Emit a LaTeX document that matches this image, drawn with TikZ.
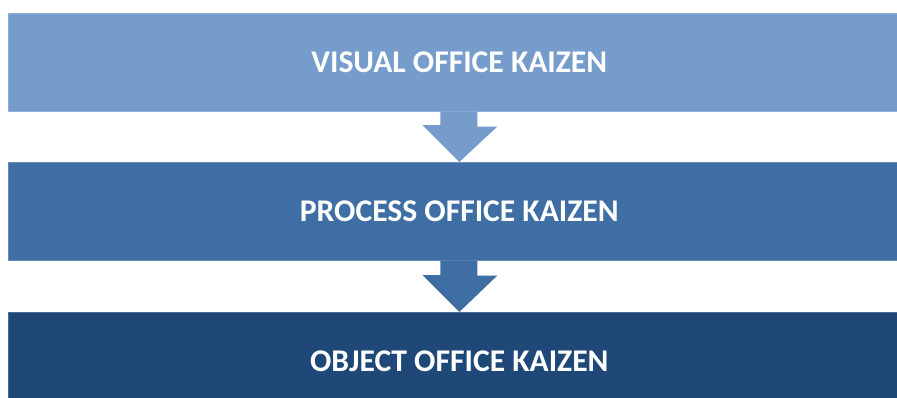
\documentclass[tikz,border=0pt]{standalone}
\usepackage{fontspec}
\setmainfont{Carlito}
\definecolor{stepA}{HTML}{759CCB}
\definecolor{stepB}{HTML}{3F6EA5}
\definecolor{stepC}{HTML}{1F4778}
\begin{document}
\begin{tikzpicture}[x=1pt,y=-1pt,
  stage/.style={fill=#1, draw=#1!80!white, line width=0.6pt, minimum width=902pt,
    minimum height=98pt, inner sep=0pt, anchor=north west,
    text=white, font=\fontsize{31.6}{38}\selectfont\bfseries},
  downarrow/.style={fill=#1}]
\useasboundingbox (0,0) rectangle (897,397);
\begin{scope}
\clip (0,0) rectangle (897,397);
\node[stage=stepA] (visual) at (8,13) {VISUAL OFFICE KAIZEN};
\node[stage=stepB] (process) at (8,162) {PROCESS OFFICE KAIZEN};
\node[stage=stepC] (object) at (8,312) {OBJECT OFFICE KAIZEN};
% block arrows between the stages
\fill[stepA] ([xshift=-19pt]visual.south) -- ([xshift=18pt]visual.south)
  -- ++(0,15) -- ++(20,0) -- (process.north) -- ++(-37,-37) -- ++(18,0) -- cycle;
\fill[stepB] ([xshift=-19pt]process.south) -- ([xshift=18pt]process.south)
  -- ++(0,15) -- ++(20,0) -- (object.north) -- ++(-37,-37) -- ++(18,0) -- cycle;
\end{scope}
\end{tikzpicture}
\end{document}
